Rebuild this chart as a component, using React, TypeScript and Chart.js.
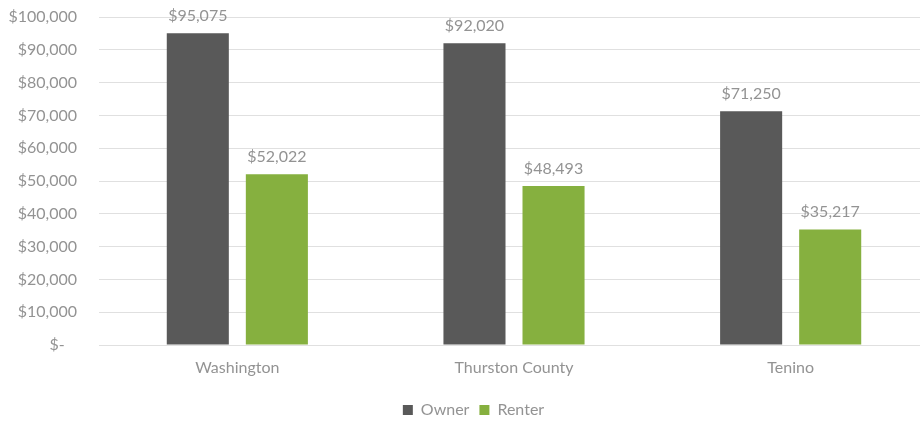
import React, { useEffect, useRef } from "react";
import { Chart, registerables } from "chart.js";

Chart.register(...registerables);

const categories = ["Washington", "Thurston County", "Tenino"];
const ownerValues = [95075, 92020, 71250];
const renterValues = [52022, 48493, 35217];
const seriesNames = ["Owner", "Renter"];

const fmt = (v: number) => (v === 0 ? "$-   " : "$" + v.toLocaleString("en-US"));

const FONT = "Lato, 'Open Sans', sans-serif";
const GRAY = "#939393";

const dataLabels = {
  id: "dataLabels",
  afterDatasetsDraw(chart: any) {
    const ctx = chart.ctx;
    ctx.save();
    ctx.font = `16px ${FONT}`;
    ctx.fillStyle = GRAY;
    ctx.textAlign = "center";
    ctx.textBaseline = "middle";
    chart.data.datasets.forEach((ds: any, i: number) => {
      const meta = chart.getDatasetMeta(i);
      meta.data.forEach((bar: any, j: number) => {
        ctx.fillText(fmt(ds.data[j]), bar.x, bar.y - 17.5);
      });
    });
    ctx.restore();
  },
};

const shiftLegend = {
  id: "shiftLegend",
  afterLayout(chart: any) {
    if (chart.legend) {
      chart.legend.left += 9;
      chart.legend.right += 9;
    }
  },
};

export default function App() {
  const ref = useRef<HTMLCanvasElement>(null);
  useEffect(() => {
    const chart = new Chart(ref.current!, {
      type: "bar",
      data: {
        labels: categories,
        datasets: [
          { label: seriesNames[0], data: ownerValues, backgroundColor: "#595959", categoryPercentage: 0.5715, barPercentage: 0.785 },
          { label: seriesNames[1], data: renterValues, backgroundColor: "#86b03f", categoryPercentage: 0.5715, barPercentage: 0.785 },
        ],
      },
      options: {
        responsive: false,
        animation: false,
        layout: { padding: { left: 0, top: 17, right: 1, bottom: 0 } },
        plugins: {
          tooltip: { enabled: false },
          legend: {
            position: "bottom",
            labels: {
              boxWidth: 10,
              boxHeight: 10,
              color: GRAY,
              font: { family: FONT, size: 16 },
              padding: 10,
            },
          },
        },
        scales: {
          x: {
            grid: { display: false, drawTicks: false },
            border: { display: false },
            afterFit: (s: any) => {
              s.height = 47;
            },
            ticks: { color: GRAY, font: { family: FONT, size: 16 }, padding: 13 },
          },
          y: {
            min: 0,
            max: 100000,
            grid: { color: "#e0e0e0", drawTicks: false, lineWidth: 1 },
            border: { display: false },
            afterFit: (s: any) => {
              s.width = 99;
              s.paddingTop = 0;
              s.paddingBottom = 0;
            },
            ticks: {
              stepSize: 10000,
              color: GRAY,
              padding: 22,
              font: { family: FONT, size: 16 },
              callback: (v: any) => fmt(Number(v)),
            },
          },
        },
      },
      plugins: [dataLabels, shiftLegend],
    });
    return () => chart.destroy();
  }, []);
  return (
    <div style={{ position: "fixed", left: 0, top: 0, width: 920, height: 421, overflow: "hidden", background: "#fff" }}>
      <canvas ref={ref} width={930} height={428} style={{ width: 930, height: 428 }} />
    </div>
  );
}
